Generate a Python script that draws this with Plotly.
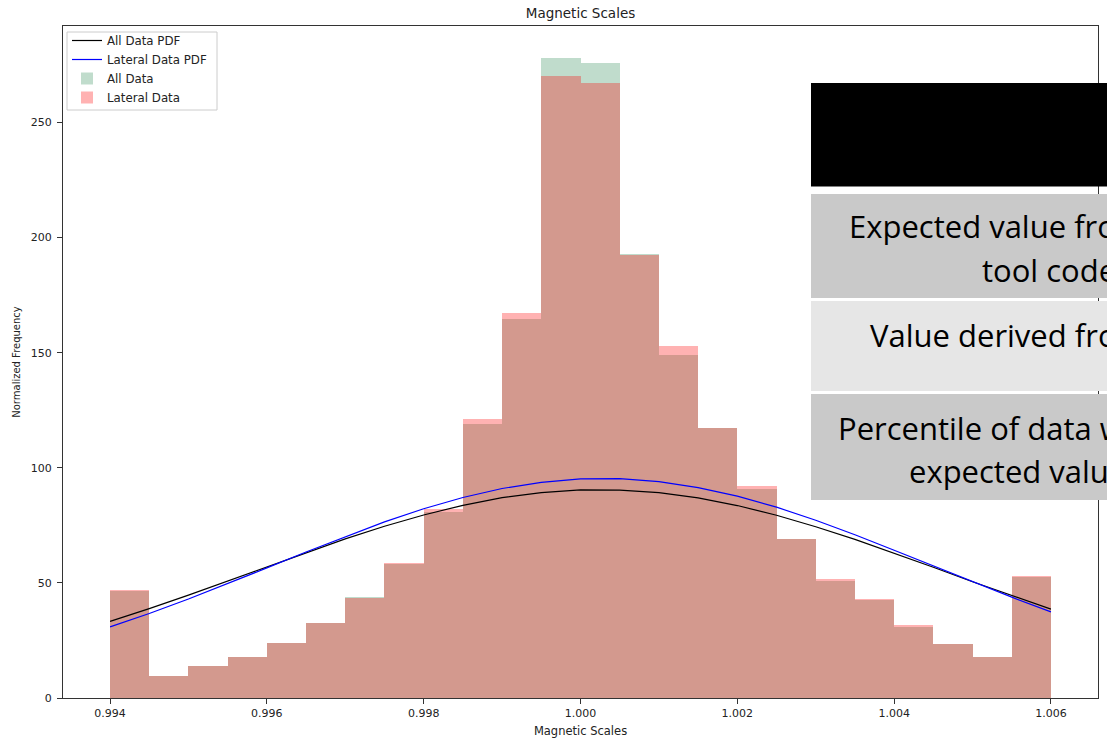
import plotly.graph_objects as go

# Histogram bins (0.0005 wide) from 0.994 to 1.006
bin_edges = [0.9940, 0.9945, 0.9950, 0.9955, 0.9960, 0.9965, 0.9970, 0.9975,
             0.9980, 0.9985, 0.9990, 0.9995, 1.0000, 1.0005, 1.0010, 1.0015,
             1.0020, 1.0025, 1.0030, 1.0035, 1.0040, 1.0045, 1.0050, 1.0055,
             1.0060]

# Normalized frequency per bin
all_data = [46.5, 9.5, 13.8, 17.7, 24.0, 32.5, 43.8, 58.0, 81.0, 119.2, 164.6, 278.0,
            276.0, 193.0, 149.2, 117.5, 90.6, 69.0, 51.0, 42.6, 30.9, 23.4, 18.0, 52.7]
lateral_data = [46.8, 9.5, 13.8, 17.7, 24.0, 32.5, 43.5, 58.5, 81.9, 121.1, 167.2, 270.3,
                267.1, 192.5, 152.8, 117.5, 92.2, 69.0, 51.6, 42.9, 31.5, 23.4, 17.6, 53.1]

# Fitted normal PDFs evaluated at the bin edges
all_pdf = [33.3, 38.8, 44.7, 50.8, 57.0, 63.2, 69.1, 74.6, 79.5, 83.7, 87.0, 89.2, 90.4,
           90.3, 89.2, 86.9, 83.6, 79.4, 74.4, 68.9, 62.9, 56.8, 50.5, 44.4, 38.6]
lateral_pdf = [30.9, 36.7, 43.0, 49.6, 56.5, 63.4, 70.1, 76.5, 82.2, 87.1, 91.0, 93.7, 95.2,
               95.3, 94.0, 91.4, 87.7, 82.9, 77.2, 70.9, 64.2, 57.3, 50.4, 43.8, 37.4]

x_ticks = [0.994, 0.996, 0.998, 1.000, 1.002, 1.004, 1.006]
y_ticks = [0, 50, 100, 150, 200, 250]

centers = [(a + b) / 2 for a, b in zip(bin_edges[:-1], bin_edges[1:])]
widths = [b - a for a, b in zip(bin_edges[:-1], bin_edges[1:])]

W, H = 1107, 743
L, R, T, B = 63, 9, 26, 45
pw, ph = W - L - R, H - T - B


def px(x):
    return (x - L) / pw


def py(y):
    return 1 - (y - T) / ph


fig = go.Figure()
fig.add_trace(go.Scatter(x=bin_edges, y=all_pdf, mode="lines", name="All Data PDF",
                         line=dict(color="black", width=1.2)))
fig.add_trace(go.Scatter(x=bin_edges, y=lateral_pdf, mode="lines", name="Lateral Data PDF",
                         line=dict(color="#0000ff", width=1.2)))
fig.add_trace(go.Bar(x=centers, y=all_data, width=widths, name="All Data",
                     marker=dict(color="rgba(46,139,87,0.3)", line=dict(width=0))))
fig.add_trace(go.Bar(x=centers, y=lateral_data, width=widths, name="Lateral Data",
                     marker=dict(color="rgba(255,0,0,0.3)", line=dict(width=0))))

axis_common = dict(showline=True, linecolor="#333333", linewidth=1, mirror=True,
                   ticks="outside", ticklen=5, tickcolor="#333333", showgrid=False,
                   zeroline=False, automargin=False,
                   tickfont=dict(family="DejaVu Sans", size=11, color="#222"))

fig.update_layout(
    width=W, height=H,
    margin=dict(l=L, r=R, t=T, b=B),
    paper_bgcolor="white", plot_bgcolor="white",
    barmode="overlay", bargap=0,
    font=dict(family="DejaVu Sans", color="#222"),
    title=dict(text="Magnetic Scales", x=(L + pw / 2) / W, xanchor="center",
               y=1 - 13 / H, yanchor="middle", yref="container",
               font=dict(size=13.5, color="#222")),
    xaxis=dict(range=[0.9934, 1.0066], tickvals=x_ticks, tickformat=".3f",
               title=dict(text="Magnetic Scales", font=dict(size=11.5), standoff=7),
               **axis_common),
    yaxis=dict(range=[0, 291.9], tickvals=y_ticks, ticklabelstandoff=3,
               title=dict(text="Normalized Frequency", font=dict(size=10), standoff=8),
               **axis_common),
    legend=dict(x=px(67), y=py(26), xanchor="left", yanchor="top",
                bgcolor="rgba(0,0,0,0)", borderwidth=0,
                font=dict(size=11.8, color="#222"), traceorder="normal",
                itemwidth=30, tracegroupgap=0),
    showlegend=True,
)

# Legend frame
fig.add_shape(type="rect", xref="paper", yref="paper",
              x0=px(67), x1=px(217), y0=py(110), y1=py(32),
              fillcolor="white", line=dict(color="#cccccc", width=1), layer="below")

# Table-like panel on the right
panels = [
    (83, 186.5, "black"),
    (194, 298, "#c9c9c9"),
    (301, 391, "#e6e6e6"),
    (394, 500, "#c9c9c9"),
]
for top, bot, col in panels:
    fig.add_shape(type="rect", xref="paper", yref="paper",
                  x0=px(811), x1=px(1140), y0=py(bot), y1=py(top),
                  fillcolor=col, line=dict(width=0), layer="above")

labels = [
    ("Expected value from the", 847, 226),
    ("tool code", 980, 270),
    ("Value derived from data", 868, 335),
    ("Percentile of data within", 836, 428),
    ("expected value", 907, 471),
]
for txt, x0, mid in labels:
    fig.add_annotation(text=txt, xref="paper", yref="paper", x=px(x0), y=py(mid),
                       xanchor="left", yanchor="middle", showarrow=False,
                       font=dict(family="Open Sans", size=31, color="black"))

fig.write_html("out.html")
